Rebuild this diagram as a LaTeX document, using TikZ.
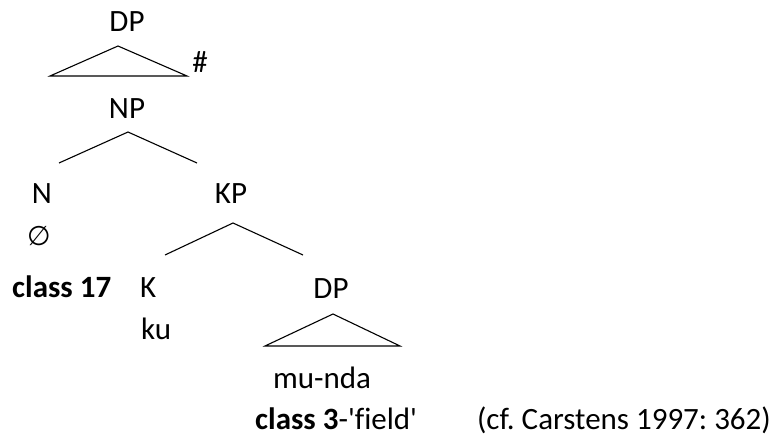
\documentclass[tikz,border=0pt]{standalone}
\usepackage{fontspec}
\setmainfont{Carlito}[Ligatures=NoCommon]
\newfontfamily\symfont{DejaVu Sans}
\frenchspacing
\begin{document}
\begin{tikzpicture}[x=1pt,y=-1pt,
  lbl/.style={font=\fontsize{31}{34}\selectfont, inner sep=0pt, anchor=base},
  edge/.style={line width=1.1pt, line join=miter}]
\useasboundingbox (0,0) rectangle (774,436);
% top DP with its triangle and the # mark
\node[lbl] (dp1) at (127,32) {DP};
\coordinate (t1a) at (118,46);
\coordinate (t1l) at (50,76);
\coordinate (t1r) at (187,76);
\draw[edge] (t1a) -- (t1l) -- (t1r) -- cycle;
\node[lbl] (hash) at (200,73) {\#};
% NP and its branches
\node[lbl] (np) at (127,118) {NP};
\coordinate (npa) at (128,132);
\coordinate (npl) at (59,163);
\coordinate (npr) at (197,163);
\draw[edge] (npl) -- (npa) -- (npr);
\node[lbl] (n) at (42,203) {N};
\node[lbl] (kp) at (231,203) {KP};
\node[lbl] (empty) at (39,245) {{\symfont\fontsize{27}{30}\selectfont ∅}};
% KP branches
\coordinate (kpa) at (233,223);
\coordinate (kpl) at (165,255);
\coordinate (kpr) at (303,255);
\draw[edge] (kpl) -- (kpa) -- (kpr);
\node[lbl, anchor=base west] (cl17) at (12,297) {\textbf{class 17}};
\node[lbl, anchor=base west] (k) at (140,297) {K};
\node[lbl, anchor=base west] (ku) at (141,339) {ku};
\node[lbl] (dp2) at (331,298) {DP};
% lower DP triangle
\coordinate (t2a) at (333,314);
\coordinate (t2l) at (265,346);
\coordinate (t2r) at (400,346);
\draw[edge] (t2a) -- (t2l) -- (t2r) -- cycle;
\node[lbl] (munda) at (322,388) {mu-nda};
\node[lbl, anchor=base west] (gloss) at (255,429) {\textbf{class 3}-\textquotesingle field\textquotesingle};
\node[lbl, anchor=base east] (cite) at (771,429) {(cf. Carstens 1997: 362)};
\end{tikzpicture}
\end{document}
